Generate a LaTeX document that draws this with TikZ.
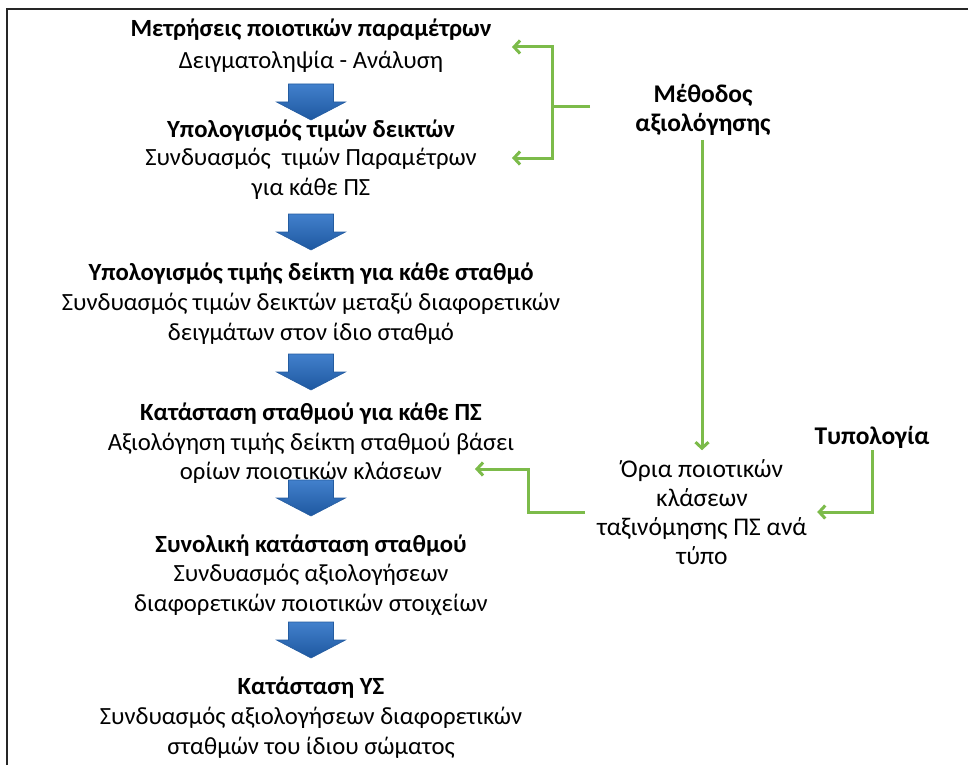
\documentclass[tikz,border=0pt]{standalone}
\usepackage{fontspec}
\setmainfont{Carlito}
\usetikzlibrary{arrows.meta}
\definecolor{gline}{RGB}{124,187,74}
\definecolor{btop}{RGB}{66,128,204}
\definecolor{bbot}{RGB}{30,88,160}
\definecolor{bedge}{RGB}{36,92,160}
\tikzset{
  ltxt/.style={inner sep=0pt, align=center, font=\fontsize{24.7}{29.5}\selectfont},
  ltitle/.style={ltxt, font=\fontsize{24.7}{29.5}\selectfont\bfseries},
  rtxt/.style={inner sep=0pt, align=center, font=\fontsize{25.5}{29}\selectfont},
  rtitle/.style={rtxt, font=\fontsize{25.5}{29}\selectfont\bfseries},
  gconn/.style={draw=gline, line width=3pt, -{Straight Barb[length=6pt,width=13pt]}},
  gplain/.style={draw=gline, line width=3pt},
  blockarrow/.pic={
    \path[top color=btop, bottom color=bbot, draw=bedge, line width=0.6pt]
      (-22.5,0) -- (22.5,0) -- (22.5,18) -- (34.5,18) -- (0,36) -- (-34.5,18) -- (-22.5,18) -- cycle;}
}
\begin{document}
\begin{tikzpicture}[x=1pt,y=-1pt]
\useasboundingbox (0,0) rectangle (968,765);
\draw[line width=2.5pt, black!85] (7,765) -- (7,9) -- (968,9);

% left column
\node[ltitle] (t1) at (311,30) {Μετρήσεις ποιοτικών παραμέτρων};
\node[ltxt]   (b1) at (311,62) {Δειγματοληψία - Ανάλυση};
\pic at (311,84) {blockarrow};
\node[ltitle] (t2) at (311,131) {Υπολογισμός τιμών δεικτών};
\node[ltxt]   (b2) at (311,174) {Συνδυασμός\ \ τιμών Παραμέτρων\\για κάθε ΠΣ};
\pic at (311,214) {blockarrow};
\node[ltitle] (t3) at (311,274) {Υπολογισμός τιμής δείκτη για κάθε σταθμό};
\node[ltxt]   (b3) at (311,319) {Συνδυασμός τιμών δεικτών μεταξύ διαφορετικών\\δειγμάτων στον ίδιο σταθμό};
\pic at (311,354) {blockarrow};
\node[ltitle] (t4) at (311,414) {Κατάσταση σταθμού για κάθε ΠΣ};
\node[ltxt]   (b4) at (311,458.5) {Αξιολόγηση τιμής δείκτη σταθμού βάσει\\ορίων ποιοτικών κλάσεων};
\pic at (311,480) {blockarrow};
\node[ltitle] (t5) at (311,546) {Συνολική κατάσταση σταθμού};
\node[ltxt]   (b5) at (311,590) {Συνδυασμός αξιολογήσεων\\διαφορετικών ποιοτικών στοιχείων};
\pic at (311,622) {blockarrow};
\node[ltitle] (t6) at (311,688) {Κατάσταση ΥΣ};
\node[ltxt]   (b6) at (311,733) {Συνδυασμός αξιολογήσεων διαφορετικών\\σταθμών του ίδιου σώματος};

% right column
\node[rtitle] (m) at (703,110) {Μέθοδος\\αξιολόγησης};
\node[rtitle] (typ) at (872,437) {Τυπολογία};
\node[rtxt] (oria) at (702,512) {Όρια ποιοτικών\\κλάσεων\\ταξινόμησης ΠΣ ανά\\τύπο};

% green connectors
\coordinate (j) at (552,107);
\coordinate (k1) at (512,47);
\coordinate (k2) at (512,158);
\coordinate (k4) at (475,469);
\draw[gplain] (m.west) ++(-45,-3) -- (j);
\draw[gconn] (552,107) |- (k1);
\draw[gconn] (552,107) |- (k2);
\draw[gconn] (m.south -| oria.north) ++(0,4) -- ([yshift=9pt]oria.north);
\draw[gconn] ([xshift=-12pt]oria.west) -- ++(-56,0) |- (k4);
\draw[gconn] ([yshift=-2pt]typ.south) |- ([xshift=10pt]oria.east);
\end{tikzpicture}
\end{document}
